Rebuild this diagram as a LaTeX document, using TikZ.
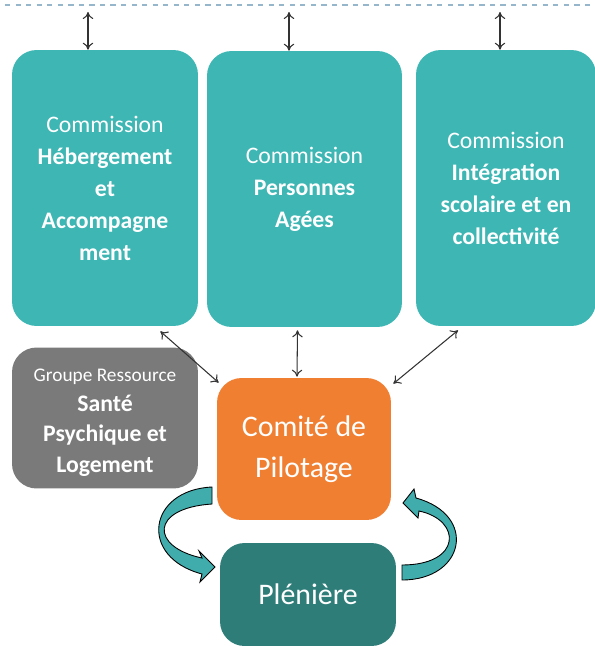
\documentclass[tikz,border=0pt]{standalone}
\usepackage{fontspec}
\setmainfont{Carlito}
\usepackage{tikz}
\usetikzlibrary{calc}
\usetikzlibrary{arrows.meta}

\definecolor{tealbox}{RGB}{61,182,180}
\definecolor{tealdark}{RGB}{46,125,121}
\definecolor{tealarrow}{RGB}{64,172,172}
\definecolor{orangebox}{RGB}{240,127,50}
\definecolor{graybox}{RGB}{122,122,122}
\definecolor{dashline}{RGB}{150,182,204}

\tikzset{
  box/.style={rounded corners=14pt, inner sep=0pt, align=center, text=white},
  combox/.style={box, fill=tealbox, minimum width=3.72cm, minimum height=5.52cm,
    font=\fontsize{13.5}{18.2}\selectfont},
  link/.style={<->, >={To[length=4pt,width=6pt]}, line width=0.6pt, draw=black!80},
  bigarrow/.style={fill=tealarrow, draw=black, line width=0.5pt},
}

\begin{document}
\begin{tikzpicture}[x=0.02cm, y=-0.02cm]
      \useasboundingbox (0,0) rectangle (595,646);
      % top line
      \draw [dashline, dashed, line width=0.6pt] (5,5) -- (595,5);
      \coordinate (top1) at (88,12);
      \coordinate (top2) at (289,12);
      \coordinate (top3) at (500,12);
      % commissions
      \node [combox] (com1) at (105,188) {Commission\\ \textbf{Hébergement}\\ \textbf{et}\\ \textbf{Accompagne}\\ \textbf{ment}};
      \node [combox, minimum width=3.9cm] (com2) at (304.5,189) {Commission\\ \textbf{Personnes}\\ \textbf{Agées}};
      \node [combox, minimum width=3.6cm] (com3) at (506,188) {Commission\\ \textbf{Intégration}\\ \textbf{scolaire et en}\\ \textbf{collectivité}};
      % groupe ressource
      \node [box, fill=graybox, minimum width=3.72cm, minimum height=2.82cm,
        font=\fontsize{13.5}{17.2}\selectfont] (grp) at (105,418)
        {\rule{0pt}{8pt}\\[-13pt]{\fontsize{11}{14}\selectfont Groupe Ressource}\\ \textbf{Santé}\\ \textbf{Psychique et}\\ \textbf{Logement}};
      % comite et pleniere
      \node [box, fill=orangebox, minimum width=3.48cm, minimum height=2.84cm,
        font=\fontsize{17}{23.5}\selectfont] (cp) at (304,449) {Comité de\\ Pilotage};
      \node [box, fill=tealdark, minimum width=3.52cm, minimum height=2.06cm,
        font=\fontsize{17}{20}\selectfont] (plen) at (308,594.5) {Plénière};
      % liens
      \draw [link] (top1) -- (top1 |- com1.north);
      \draw [link] (top2) -- (top2 |- com2.north);
      \draw [link] (top3) -- (top3 |- com3.north);
      \draw [link] ($(com1.south east)+(-38,5)$) -- ($(cp.north west)+(2,5)$);
      \draw [link] ($(com2.south)+(-7,3)$) -- ($(cp.north)+(-7,-1)$);
      \draw [link] ($(com3.south)+(-48,4)$) -- ($(cp.north east)+(2,6)$);
      % fleches courbes
      \draw [bigarrow] (212,487) .. controls (148,490) and (138,557) .. (202,574)
        -- (200,582) -- (215,567) -- (199,551) -- (202,558)
        .. controls (150,547) and (150,508) .. (212,504) -- cycle;
      \draw [bigarrow] (402,580) .. controls (465,580) and (478,515) .. (416,498)
        -- (414,489) -- (403,503) -- (418,518) -- (419,511)
        .. controls (462,520) and (462,565) .. (402,565) -- cycle;
    \end{tikzpicture}
\end{document}
